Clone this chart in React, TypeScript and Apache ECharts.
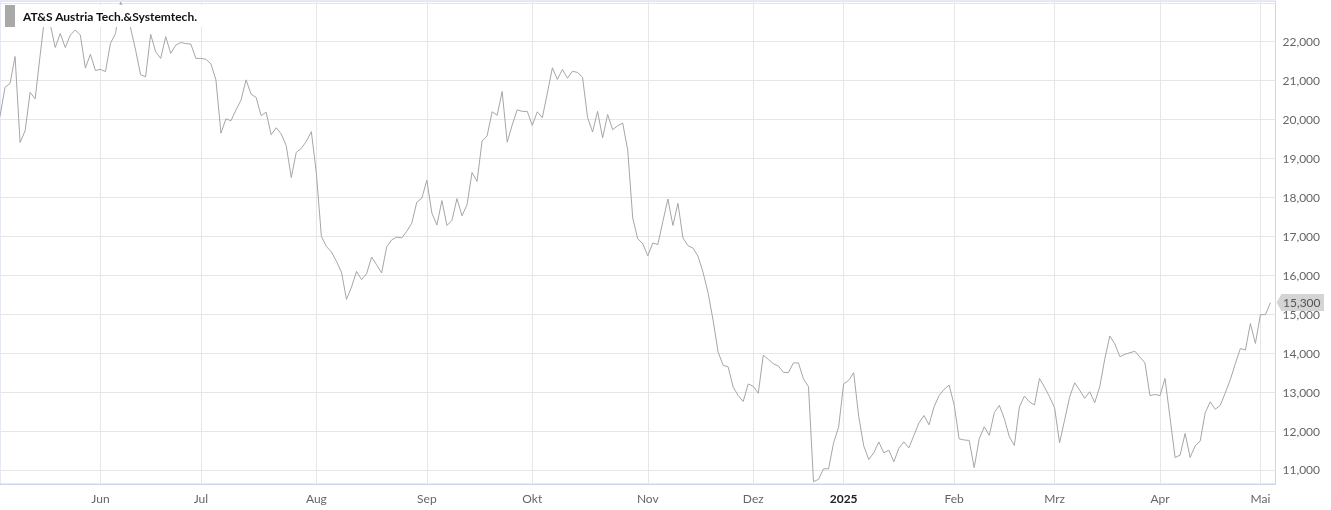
import React, { useEffect, useRef } from 'react';
import * as echarts from 'echarts';

const seriesName = 'AT&S Austria Tech.&Systemtech.';
const lastValueLabel = '15,300';

// Month tick labels (first trading day of each month gets the label)
const monthLabels = ['', 'Jun', 'Jul', 'Aug', 'Sep', 'Okt', 'Nov', 'Dez', '2025', 'Feb', 'Mrz', 'Apr', 'Mai'];

// Daily closing prices (EUR), one array per month
const may2024 = [20.08, 20.83, 20.93, 21.62, 19.41, 19.71, 20.70, 20.53, 21.66, 22.75, 22.45, 21.85, 22.21, 21.85, 22.17, 22.30, 22.17, 21.32, 21.68, 21.26];
const jun2024 = [21.29, 21.23, 21.96, 22.21, 23.02, 22.75, 22.35, 21.79, 21.15, 21.10, 22.19, 21.74, 21.57, 22.13, 21.70, 21.91, 21.98, 21.95, 21.94, 21.57];
const jul2024 = [21.57, 21.55, 21.43, 21.02, 19.65, 20.02, 19.97, 20.25, 20.50, 21.02, 20.65, 20.57, 20.10, 20.19, 19.61, 19.79, 19.63, 19.33, 18.51, 19.16, 19.26, 19.44, 19.69];
const aug2024 = [18.62, 17.00, 16.74, 16.60, 16.36, 16.08, 15.38, 15.70, 16.10, 15.89, 16.04, 16.47, 16.27, 16.06, 16.73, 16.91, 16.98, 16.96, 17.13, 17.34, 17.88, 17.98];
const sep2024 = [18.44, 17.60, 17.29, 17.92, 17.28, 17.41, 17.97, 17.53, 17.81, 18.64, 18.41, 19.45, 19.58, 20.20, 20.11, 20.72, 19.42, 19.86, 20.25, 20.21, 20.21];
const okt2024 = [19.85, 20.20, 20.05, 20.68, 21.33, 21.03, 21.29, 21.06, 21.24, 21.21, 21.09, 20.06, 19.68, 20.21, 19.53, 20.13, 19.74, 19.84, 19.91, 19.22, 17.47, 16.94, 16.81];
const nov2024 = [16.50, 16.83, 16.79, 17.38, 17.96, 17.28, 17.85, 16.96, 16.76, 16.70, 16.49, 16.08, 15.55, 14.85, 14.03, 13.69, 13.65, 13.13, 12.91, 12.76, 13.21];
const dez2024 = [13.15, 12.97, 13.95, 13.84, 13.73, 13.67, 13.51, 13.50, 13.75, 13.75, 13.34, 13.14, 10.70, 10.76, 11.03, 11.03, 11.70, 12.10];
const jan2025 = [13.21, 13.30, 13.50, 12.38, 11.62, 11.27, 11.44, 11.72, 11.44, 11.51, 11.21, 11.56, 11.72, 11.57, 11.89, 12.21, 12.40, 12.16, 12.62, 12.91, 13.07, 13.18];
const feb2025 = [12.68, 11.80, 11.77, 11.76, 11.06, 11.80, 12.11, 11.89, 12.47, 12.66, 12.32, 11.85, 11.63, 12.62, 12.90, 12.75, 12.67, 13.35, 13.13, 12.88];
const mrz2025 = [12.60, 11.70, 12.28, 12.87, 13.24, 13.05, 12.84, 13.01, 12.73, 13.14, 13.85, 14.44, 14.24, 13.91, 13.97, 14.01, 14.05, 13.90, 13.75, 12.91, 12.94];
const apr2025 = [12.91, 13.35, 12.34, 11.32, 11.38, 11.94, 11.32, 11.62, 11.74, 12.47, 12.75, 12.56, 12.66, 12.98, 13.32, 13.73, 14.12, 14.08, 14.76, 14.25];
const mai2025 = [14.99, 14.99, 15.30];

const monthValues = [may2024, jun2024, jul2024, aug2024, sep2024, okt2024, nov2024, dez2024, jan2025, feb2025, mrz2025, apr2025, mai2025];

const FONT = 'Lato, "Noto Sans", sans-serif';

export default function App() {
  const ref = useRef<HTMLDivElement>(null);

  useEffect(() => {
    if (!ref.current) return;
    const chart = echarts.init(ref.current, undefined, { renderer: 'svg' });

    const categories: string[] = [];
    const values: (number | null)[] = [];
    const tickLabelAt: Record<number, string> = {};
    monthValues.forEach((arr, m) => {
      arr.forEach((v, d) => {
        const idx = categories.length;
        if (d === 0 && monthLabels[m]) tickLabelAt[idx] = monthLabels[m];
        categories.push(`${m}-${d}`);
        values.push(v);
      });
    });
    // one empty slot at the right edge
    categories.push('pad');
    values.push(null);
    const lastIdx = values.length - 2;
    const lastVal = values[lastIdx] as number;

    const isTick = (i: number) => tickLabelAt[i] !== undefined;

    chart.setOption({
      animation: false,
      textStyle: { fontFamily: FONT },
      grid: { left: 0, top: 1, right: 55.5, bottom: 26, show: true, borderColor: '#ccd6eb', borderWidth: 1, backgroundColor: 'transparent' },
      xAxis: {
        type: 'category',
        data: categories,
        boundaryGap: false,
        axisLine: { show: true, lineStyle: { color: '#ccd6eb' } },
        axisTick: { show: false },
        axisLabel: {
          interval: (i: number) => isTick(i),
          margin: 8,
          color: '#666666',
          fontSize: 12,
          fontFamily: FONT,
          formatter: (_v: string, i: number) => {
            const t = tickLabelAt[i] || '';
            return t === '2025' ? `{b|${t}}` : t;
          },
          rich: { b: { fontWeight: 'bold', color: '#222222', fontSize: 12, fontFamily: FONT } },
        },
        splitLine: { show: true, interval: (i: number) => isTick(i), lineStyle: { color: '#e6e6e6', width: 1 } },
      },
      yAxis: {
        type: 'value',
        position: 'right',
        min: 10.64,
        max: 23.045,
        splitNumber: 12,
        axisLine: { show: false },
        axisTick: { show: false },
        axisLabel: {
          margin: 7,
          color: '#666666',
          fontSize: 12,
          fontFamily: FONT,
          formatter: (v: number) => (v < 10.99 || v > 22.01 ? '' : v.toFixed(3).replace('.', ',')),
        },
        splitLine: { show: true, lineStyle: { color: '#e6e6e6', width: 1 } },
      },
      series: [
        {
          name: seriesName,
          type: 'line',
          data: values,
          showSymbol: false,
          connectNulls: false,
          lineStyle: { color: '#a6a6a6', width: 1 },
          itemStyle: { color: '#a6a6a6' },
        },
      ],
    });

    const p = chart.convertToPixel({ gridIndex: 0 }, [lastIdx, lastVal]) as number[];
    const fy = p[1];
    const gx = 1331 - 55.5;
    chart.setOption({
      graphic: [
        { type: 'rect', z: 100, shape: { x: 2, y: 5, width: 203, height: 22 }, style: { fill: '#ffffff' } },
        { type: 'rect', z: 101, shape: { x: 5, y: 5, width: 10, height: 22 }, style: { fill: '#a9a9a9' } },
        { type: 'text', z: 101, x: 23, y: 16.5, style: { text: seriesName, fill: '#111111', font: `bold 12px ${FONT}`, verticalAlign: 'middle', align: 'left' } },
        {
          type: 'polygon', z: 100,
          shape: { points: [[gx + 1, fy], [gx + 6, fy - 8.5], [1324, fy - 8.5], [1324, fy + 8.5], [gx + 6, fy + 8.5]] },
          style: { fill: '#d4d4d4' },
        },
        { type: 'text', z: 101, x: 1283, y: fy, style: { text: lastValueLabel, fill: '#555555', font: `12px ${FONT}`, verticalAlign: 'middle', align: 'left' } },
      ],
    });

    return () => chart.dispose();
  }, []);

  return <div ref={ref} style={{ position: 'fixed', left: 0, top: 0, width: 1331, height: 510 }} />;
}
